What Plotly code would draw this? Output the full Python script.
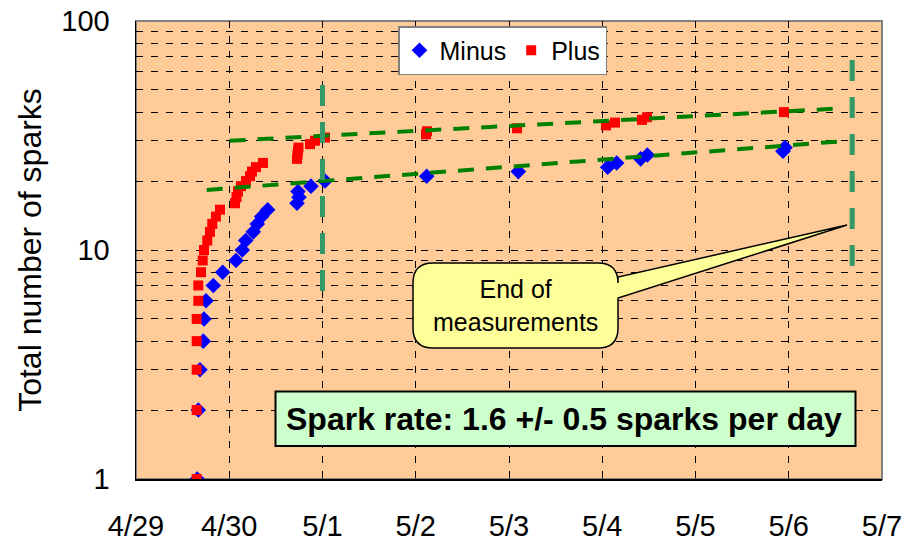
import plotly.graph_objects as go

# ---------------- data ----------------
minus_times = [
    "2009-04-29 15:46", "2009-04-29 16:02", "2009-04-29 16:28", "2009-04-29 17:19",
    "2009-04-29 17:30", "2009-04-29 18:01", "2009-04-29 19:54", "2009-04-29 22:19",
    "2009-04-30 01:44", "2009-04-30 03:21", "2009-04-30 04:14", "2009-04-30 06:11",
    "2009-04-30 07:13", "2009-04-30 08:21", "2009-04-30 09:53", "2009-04-30 17:26",
    "2009-04-30 17:57", "2009-04-30 17:41", "2009-04-30 21:02", "2009-05-01 00:39",
    "2009-05-02 02:49", "2009-05-03 02:24", "2009-05-04 01:24", "2009-05-04 03:43",
    "2009-05-04 09:53", "2009-05-04 11:36", "2009-05-05 22:31", "2009-05-05 23:02",
]
minus_counts = [1, 2, 3, 4, 5, 6, 7, 8, 9, 10, 11, 12, 13, 14, 15, 16, 17, 18, 19, 20,
                21, 22, 23, 24, 25, 26, 27, 28]

plus_times = [
    "2009-04-29 15:37", "2009-04-29 15:37", "2009-04-29 15:37", "2009-04-29 15:37",
    "2009-04-29 15:37", "2009-04-29 16:02", "2009-04-29 16:02", "2009-04-29 16:44",
    "2009-04-29 17:10", "2009-04-29 17:30", "2009-04-29 18:21", "2009-04-29 19:03",
    "2009-04-29 19:38", "2009-04-29 20:35", "2009-04-29 21:37", "2009-04-30 01:29",
    "2009-04-30 01:52", "2009-04-30 02:15", "2009-04-30 03:01", "2009-04-30 04:19",
    "2009-04-30 05:21", "2009-04-30 05:51", "2009-04-30 06:53", "2009-04-30 08:41",
    "2009-04-30 17:26", "2009-04-30 17:34", "2009-04-30 17:41", "2009-04-30 17:49",
    "2009-04-30 20:47", "2009-04-30 22:05", "2009-05-01 00:39", "2009-05-02 02:38",
    "2009-05-02 02:54", "2009-05-03 02:04", "2009-05-04 00:58", "2009-05-04 03:17",
    "2009-05-04 10:13", "2009-05-04 11:31", "2009-05-05 22:47",
]
plus_counts = [1, 2, 3, 4, 5, 6, 7, 8, 9, 10, 11, 12, 13, 14, 15, 16, 17, 18, 19, 20,
               21, 22, 23, 24, 25, 26, 27, 28, 29, 30, 31, 32, 33, 34, 35, 36, 37, 38, 40]

# trend (fit) lines
fit_plus_x = ["2009-04-30 00:05", "2009-05-06 14:25"]
fit_plus_y = [30.0, 41.6]
fit_minus_x = ["2009-04-29 18:12", "2009-05-06 13:12"]
fit_minus_y = [18.3, 29.8]

# vertical marker lines (start of stable period / end of measurements)
vline1_x = ["2009-05-01 00:00", "2009-05-01 00:00"]
vline1_y = [52.5, 6.55]
vline2_x = ["2009-05-06 16:20", "2009-05-06 16:20"]
vline2_y = [67.6, 8.26]

x_range = ["2009-04-29", "2009-05-07"]
y_tick_vals = [1, 10, 100]
y_tick_text = ["1", "10", "100"]

# ---------------- layout geometry ----------------
W, H = 906, 542
ML, MR, MT, MB = 136, 24, 21, 63
PW, PH = W - ML - MR, H - MT - MB


def px(x):
    return (x - ML) / PW


def py(y):
    return (H - MB - y) / PH


FONT = "Arial, Liberation Sans, Helvetica, sans-serif"

fig = go.Figure()

fig.add_trace(go.Scatter(
    x=minus_times, y=minus_counts, mode="markers", name="Minus",
    marker=dict(symbol="diamond", size=12, color="#0000FF", line=dict(width=0)),
))
fig.add_trace(go.Scatter(
    x=plus_times, y=plus_counts, mode="markers", name="Plus",
    marker=dict(symbol="square", size=10, color="#FF0000", line=dict(width=0)),
))

for xs, ys in [(fit_plus_x, fit_plus_y), (fit_minus_x, fit_minus_y)]:
    fig.add_trace(go.Scatter(
        x=xs, y=ys, mode="lines", showlegend=False, hoverinfo="skip",
        line=dict(color="#008000", width=4, dash="16px,12px"),
    ))
for xs, ys in [(vline1_x, vline1_y), (vline2_x, vline2_y)]:
    fig.add_trace(go.Scatter(
        x=xs, y=ys, mode="lines", showlegend=False, hoverinfo="skip",
        line=dict(color="#339966", width=5, dash="21px,16px"),
    ))

# plot-area border (gray) - left/bottom axis lines drawn black on top
fig.add_shape(type="rect", xref="paper", yref="paper", x0=0, y0=0, x1=1, y1=1,
              line=dict(color="#808080", width=2), fillcolor="rgba(0,0,0,0)", layer="below")

# callout bubble with pointer
L, R, T, B, r = 413, 618, 263, 348, 20
tipx, tipy = 847, 225
path = (
    f"M {px(L + r)},{py(T)} L {px(R - r)},{py(T)} Q {px(R)},{py(T)} {px(R)},{py(T + r)} "
    f"L {px(R)},{py(277)} L {px(tipx)},{py(tipy)} L {px(R)},{py(298)} "
    f"L {px(R)},{py(B - r)} Q {px(R)},{py(B)} {px(R - r)},{py(B)} "
    f"L {px(L + r)},{py(B)} Q {px(L)},{py(B)} {px(L)},{py(B - r)} "
    f"L {px(L)},{py(T + r)} Q {px(L)},{py(T)} {px(L + r)},{py(T)} Z"
)
fig.add_shape(type="path", xref="paper", yref="paper", path=path,
              fillcolor="#FFFF99", line=dict(color="black", width=1.5), layer="above")
fig.add_annotation(xref="paper", yref="paper", x=px((L + R) / 2), y=py((T + B) / 2),
                   xanchor="center", yanchor="middle",
                   text="End of<br>measurements", showarrow=False,
                   font=dict(family=FONT, size=25, color="black"), align="center")

# spark-rate box
fig.add_shape(type="rect", xref="paper", yref="paper",
              x0=px(275.5), x1=px(855.5), y0=py(446), y1=py(391.5),
              fillcolor="#CCFFCC", line=dict(color="black", width=2), layer="above")
fig.add_annotation(xref="paper", yref="paper", x=px(564), y=py(418.5),
                   xanchor="center", yanchor="middle",
                   text="<b>Spark rate: 1.6 +/- 0.5 sparks per day</b>", showarrow=False,
                   font=dict(family=FONT, size=32, color="black"))

grid = dict(gridcolor="black", gridwidth=1, griddash="7px,8px")

fig.update_layout(
    width=W, height=H,
    margin=dict(l=ML, r=MR, t=MT, b=MB, pad=0, autoexpand=False),
    paper_bgcolor="white", plot_bgcolor="#FFCC99",
    font=dict(family=FONT, size=28, color="black"),
    showlegend=True,
    legend=dict(orientation="h", x=px(398), y=py(26), xanchor="left", yanchor="top",
                bgcolor="white", bordercolor="#808080", borderwidth=1.5,
                font=dict(family=FONT, size=25, color="black"),
                itemclick=False),
    xaxis=dict(type="date", range=x_range, tick0="2009-04-29", dtick=86400000,
               tickformat="%-m/%-d", showgrid=True, **grid, automargin=False,
               showline=True, linecolor="black", linewidth=1.5,
               ticks="", ticklabelstandoff=21, zeroline=False,
               tickfont=dict(family=FONT, size=29)),
    yaxis=dict(type="log", range=[0, 2], tickvals=y_tick_vals, ticktext=y_tick_text,
               showgrid=True, **grid, automargin=False,
               minor=dict(dtick="D1", showgrid=True, **grid, ticks=""),
               showline=True, linecolor="black", linewidth=1.5,
               ticks="", ticklabelstandoff=19, zeroline=False,
               tickfont=dict(family=FONT, size=29),
               title=dict(text="Total number of sparks", standoff=10,
                          font=dict(family=FONT, size=32))),
)

fig.write_html("out.html", config={"displayModeBar": False, "staticPlot": True},
               post_script="document.body.style.margin='0';")
